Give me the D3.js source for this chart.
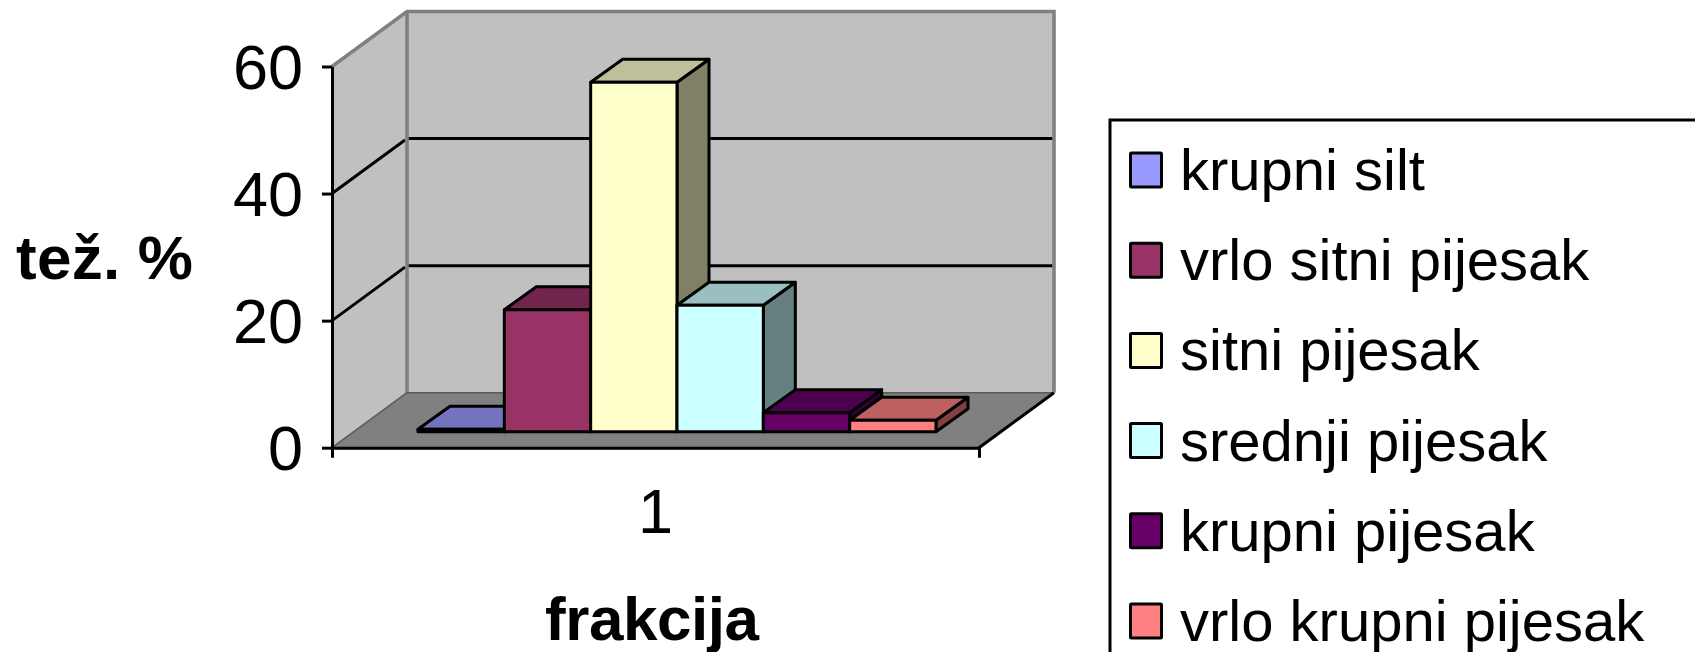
<!DOCTYPE html>
<html><head><meta charset="utf-8">
<script src="https://cdn.jsdelivr.net/npm/d3@7/dist/d3.min.js"></script>
<style>html,body{margin:0;padding:0;background:#fff;overflow:hidden}svg{display:block}text{font-family:"Liberation Sans",Arial,sans-serif;fill:#000}</style>
</head><body><svg id="c" width="1695" height="652"></svg>
<script>
const categories = ["1"];
const seriesNames = ["krupni silt","vrlo sitni pijesak","sitni pijesak","srednji pijesak","krupni pijesak","vrlo krupni pijesak"];
const seriesValues = [0.4,19.2,55,19.9,3,1.8];
const seriesColors = ["#9999FF","#993366","#FFFFCC","#CCFFFF","#660066","#FF8080"];
const yTicks = [0,20,40,60];

const svg = d3.select("#c");
const y = d3.scaleLinear().domain([0,60]).range([447.7,66.5]);
const xCat = d3.scaleBand().domain(categories).range([332,979]);
const xBar = d3.scaleBand().domain(seriesNames).range([418,936]);
const wallDx = 75, wallDy = -55;      // wall depth
const barDx = 32, barDy = -23;        // bar depth
const baseDrop = -16;                 // bars stand this far behind the front edge
const X0 = xCat.range()[0], X1 = xCat.range()[1], Y0 = y(0), Y60 = y(60);
const pts = a => a.map(p=>p.join(",")).join(" ");

// floor
svg.append("polygon").attr("points",pts([[X0,Y0],[X1,Y0],[X1+wallDx,Y0+wallDy],[X0+wallDx,Y0+wallDy]])).attr("fill","#808080");
// side wall
svg.append("polygon").attr("points",pts([[X0,Y0],[X0,Y60],[X0+wallDx,Y60+wallDy],[X0+wallDx,Y0+wallDy]])).attr("fill","#C0C0C0");
// back wall
svg.append("rect").attr("x",X0+wallDx).attr("y",Y60+wallDy).attr("width",X1-X0).attr("height",Y0-Y60).attr("fill","#C0C0C0");
// grid
const gridVals = yTicks.filter(v=>v>0&&v<60);
svg.selectAll(".gb").data(gridVals).join("line").attr("x1",X0+wallDx).attr("x2",X1+wallDx)
  .attr("y1",d=>y(d)+wallDy).attr("y2",d=>y(d)+wallDy).attr("stroke","#000").attr("stroke-width",3);
svg.selectAll(".gs").data(gridVals).join("line").attr("x1",X0).attr("x2",X0+wallDx-2)
  .attr("y1",d=>y(d)).attr("y2",d=>y(d)+wallDy+1.5).attr("stroke","#000").attr("stroke-width",3);
// wall frame
svg.append("path").attr("d",`M${X0},${Y60}L${X0+wallDx},${Y60+wallDy}L${X1+wallDx},${Y60+wallDy}L${X1+wallDx},${Y0+wallDy}`)
  .attr("fill","none").attr("stroke","#808080").attr("stroke-width",3.6);
svg.append("line").attr("x1",X0+wallDx).attr("x2",X0+wallDx).attr("y1",Y60+wallDy).attr("y2",Y0+wallDy).attr("stroke","#808080").attr("stroke-width",3.6);
svg.append("line").attr("x1",X0+wallDx).attr("x2",X1+wallDx).attr("y1",Y0+wallDy).attr("y2",Y0+wallDy).attr("stroke","#5a5a5a").attr("stroke-width",1.5);
svg.append("line").attr("x1",X0).attr("x2",X0+wallDx).attr("y1",Y0).attr("y2",Y0+wallDy).attr("stroke","#5a5a5a").attr("stroke-width",1.5);
// floor edges
svg.append("line").attr("x1",X1).attr("x2",X1+wallDx).attr("y1",Y0).attr("y2",Y0+wallDy).attr("stroke","#000").attr("stroke-width",3);

// bars
const shade = (c,k)=>{const r=d3.rgb(c);return d3.rgb(r.r*k,r.g*k,r.b*k).formatHex();};
const bars = svg.selectAll(".bar").data(seriesNames.map((n,i)=>({n,v:seriesValues[i],c:seriesColors[i]}))).join("g").attr("class","bar")
  .attr("stroke","#000").attr("stroke-width",3).attr("stroke-linejoin","round");
const L = d=>xBar(d.n), R = d=>xBar(d.n)+xBar.bandwidth(), B = Y0+baseDrop, T = d=>y(d.v)+baseDrop;
bars.append("polygon").attr("fill",d=>shade(d.c,.5))
  .attr("points",d=>pts([[R(d),B],[R(d),T(d)],[R(d)+barDx,T(d)+barDy],[R(d)+barDx,B+barDy]]));
bars.append("polygon").attr("fill",d=>shade(d.c,.75))
  .attr("points",d=>pts([[L(d),T(d)],[L(d)+barDx,T(d)+barDy],[R(d)+barDx,T(d)+barDy],[R(d),T(d)]]));
bars.append("rect").attr("fill",d=>d.c).attr("x",L).attr("y",T).attr("width",xBar.bandwidth()).attr("height",d=>B-T(d));

// axes
const ay = svg.append("g").attr("transform",`translate(${X0},0)`)
  .call(d3.axisLeft(y).tickValues(yTicks).tickSizeInner(10).tickSizeOuter(0).tickPadding(19));
const ax = svg.append("g").attr("transform",`translate(0,${Y0})`)
  .call(d3.axisBottom(xCat).tickSizeInner(0).tickSizeOuter(10).tickPadding(0));
ay.attr("font-family",null).attr("font-size",null);ax.attr("font-family",null).attr("font-size",null);
svg.selectAll(".domain,.tick line").attr("stroke","#000").attr("stroke-width",3);
ay.selectAll("text").style("font-size","63px").attr("dy",null).attr("dominant-baseline",null).attr("y",22);
ax.selectAll("text").style("font-size","63px").attr("dy",null).attr("y",85);

// axis titles
svg.append("text").text("tež. %").attr("x",16).attr("y",279).attr("font-weight","bold").style("font-size","62px").attr("textLength",177);
svg.append("text").text("frakcija").attr("x",545).attr("y",640).attr("font-weight","bold").style("font-size","62px").attr("textLength",214);

// legend
svg.append("rect").attr("x",1110).attr("y",120).attr("width",800).attr("height",800).attr("fill","#fff").attr("stroke","#000").attr("stroke-width",3);
const lg = svg.selectAll(".lg").data(seriesNames).join("g").attr("class","lg")
  .attr("transform",(d,i)=>`translate(0,${i*90.2})`);
lg.append("rect").attr("x",1130.5).attr("y",153).attr("width",31).attr("height",34)
  .attr("fill",(d,i)=>seriesColors[i]).attr("stroke","#000").attr("stroke-width",3).attr("rx",1);
lg.append("text").text(d=>d).attr("x",1180).attr("y",190).style("font-size","58px");
</script></body></html>
